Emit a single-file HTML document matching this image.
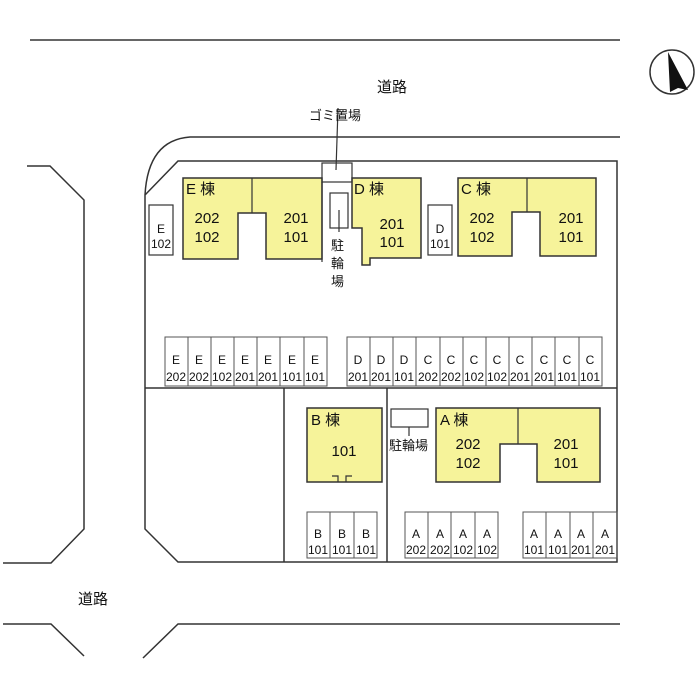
<!DOCTYPE html>
<html><head><meta charset="utf-8"><style>
body{margin:0;background:#fff}
svg{display:block}
text{font-family:"Liberation Sans","Noto Sans CJK JP",sans-serif;fill:#111}
</style></head><body>
<svg width="700" height="700" viewBox="0 0 700 700" xmlns="http://www.w3.org/2000/svg">
<g stroke="#333" stroke-width="1.5" fill="none">
<line x1="30" y1="40" x2="620" y2="40"/>
<path d="M620 137 H190 Q148 140 145 195"/>
<path d="M27 166 H50 L84 200 V529 L51 563 H3"/>
<path d="M3 624 H51 L84 656"/>
<path d="M143 658 L178 624 H620"/>
<path d="M145 195 V529 L178 562 H617 V161 H178 L145 195"/>
<line x1="145" y1="388" x2="617" y2="388"/>
<line x1="284" y1="388" x2="284" y2="562"/>
<line x1="387" y1="388" x2="387" y2="562"/>
</g>
<g fill="#f6f39a" stroke="#333" stroke-width="1.5">
<path d="M183 178 H322 V259 H266 V213 H238 V259 H183 Z"/>
<path d="M352 178 H421 V258 H370 V265 H362 V228 H352 Z"/>
<path d="M458 178 H596 V256 H540 V212 H512 V256 H458 Z"/>
<rect x="307" y="408" width="75" height="74"/>
<path d="M436 408 H600 V482 H537 V444 H500 V482 H436 Z"/>
</g>
<g stroke="#333" stroke-width="1.2" fill="none">
<path d="M252 178 V213 M527 178 V212 M518 408 V444"/>
<rect x="322" y="163" width="30" height="19"/>
<line x1="322" y1="182" x2="322" y2="262"/>
<rect x="330" y="193" width="18" height="35" fill="#fff"/>
<rect x="149" y="205" width="24" height="50"/>
<rect x="428" y="205" width="24" height="50"/>
<rect x="391" y="409" width="37" height="18"/>
<line x1="409" y1="427" x2="409" y2="436"/>
<line x1="338" y1="108" x2="336" y2="170"/>
<line x1="339" y1="210" x2="339" y2="232"/>
<path d="M332 476 h6 v6 M346 482 v-6 h6"/>
<circle cx="672" cy="72" r="22" stroke-width="1.5"/>
</g>
<path d="M668 52 L670 92 L678 88 L688 90 Z" fill="#111"/>
<g font-size="15">
<text x="377" y="92">道路</text>
<text x="78" y="604">道路</text>
</g>
<g font-size="13">
<text x="309" y="120">ゴミ置場</text>
<text x="331" y="250">駐</text><text x="331" y="268">輪</text><text x="331" y="286">場</text>
<text x="389" y="450">駐輪場</text>
</g>
<g font-size="15">
<text x="186" y="194">E 棟</text><text x="354" y="194">D 棟</text><text x="461" y="194">C 棟</text>
<text x="311" y="425">B 棟</text><text x="440" y="425">A 棟</text>
<g text-anchor="middle">
<text x="207" y="223">202</text><text x="207" y="242">102</text>
<text x="296" y="223">201</text><text x="296" y="242">101</text>
<text x="392" y="229">201</text><text x="392" y="247">101</text>
<text x="482" y="223">202</text><text x="482" y="242">102</text>
<text x="571" y="223">201</text><text x="571" y="242">101</text>
<text x="344" y="456">101</text>
<text x="468" y="449">202</text><text x="468" y="468">102</text>
<text x="566" y="449">201</text><text x="566" y="468">101</text>
</g></g>
<g font-size="12" text-anchor="middle">
<text x="161" y="233">E</text><text x="161" y="248">102</text>
<text x="440" y="233">D</text><text x="440" y="248">101</text>
</g>
<g stroke="#555" stroke-width="1" fill="none">
<rect x="165" y="337" width="162" height="49"/>
<path d="M188 337V386M211 337V386M234 337V386M257 337V386M280 337V386M304 337V386"/>
<rect x="347" y="337" width="255" height="49"/>
<path d="M370 337V386M393 337V386M416 337V386M440 337V386M463 337V386M486 337V386M509 337V386M532 337V386M555 337V386M579 337V386"/>
<rect x="307" y="512" width="70" height="46"/>
<path d="M330 512V558M354 512V558"/>
<rect x="405" y="512" width="93" height="46"/>
<path d="M428 512V558M451 512V558M475 512V558"/>
<rect x="523" y="512" width="94" height="46"/>
<path d="M546 512V558M570 512V558M593 512V558"/>
</g>
<g font-size="12" text-anchor="middle">
<text x="176" y="364">E</text><text x="176" y="381">202</text>
<text x="199" y="364">E</text><text x="199" y="381">202</text>
<text x="222" y="364">E</text><text x="222" y="381">102</text>
<text x="245" y="364">E</text><text x="245" y="381">201</text>
<text x="268" y="364">E</text><text x="268" y="381">201</text>
<text x="292" y="364">E</text><text x="292" y="381">101</text>
<text x="315" y="364">E</text><text x="315" y="381">101</text>
<text x="358" y="364">D</text><text x="358" y="381">201</text>
<text x="381" y="364">D</text><text x="381" y="381">201</text>
<text x="404" y="364">D</text><text x="404" y="381">101</text>
<text x="428" y="364">C</text><text x="428" y="381">202</text>
<text x="451" y="364">C</text><text x="451" y="381">202</text>
<text x="474" y="364">C</text><text x="474" y="381">102</text>
<text x="497" y="364">C</text><text x="497" y="381">102</text>
<text x="520" y="364">C</text><text x="520" y="381">201</text>
<text x="544" y="364">C</text><text x="544" y="381">201</text>
<text x="567" y="364">C</text><text x="567" y="381">101</text>
<text x="590" y="364">C</text><text x="590" y="381">101</text>
<text x="318" y="538">B</text><text x="318" y="554">101</text>
<text x="342" y="538">B</text><text x="342" y="554">101</text>
<text x="366" y="538">B</text><text x="366" y="554">101</text>
<text x="416" y="538">A</text><text x="416" y="554">202</text>
<text x="440" y="538">A</text><text x="440" y="554">202</text>
<text x="463" y="538">A</text><text x="463" y="554">102</text>
<text x="487" y="538">A</text><text x="487" y="554">102</text>
<text x="534" y="538">A</text><text x="534" y="554">101</text>
<text x="558" y="538">A</text><text x="558" y="554">101</text>
<text x="581" y="538">A</text><text x="581" y="554">201</text>
<text x="605" y="538">A</text><text x="605" y="554">201</text>
</g>
</svg>
</body></html>
